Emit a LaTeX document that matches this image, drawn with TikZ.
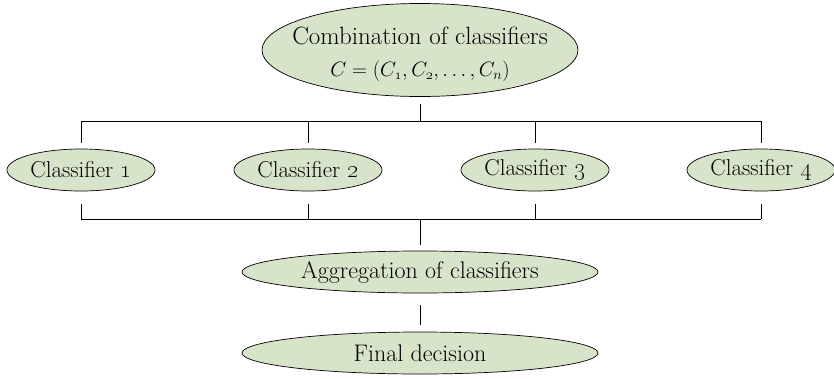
\documentclass[tikz,border=0pt]{standalone}
\usetikzlibrary{shapes.geometric}
\definecolor{leaf}{HTML}{D7E4C9}
\begin{document}
\begin{tikzpicture}[x=1pt,y=-1pt,
  font=\fontsize{23}{27}\selectfont,
  ell/.style={ellipse, draw=black, line width=0.7pt, fill=leaf, inner ysep=0pt, inner xsep=-20pt, align=center},
  small/.style={ell, minimum width=148pt, minimum height=42pt},
  wide/.style={ell, minimum width=356pt, minimum height=42pt, font=\fontsize{24}{28}\selectfont},
  conn/.style={draw=black, line width=0.8pt}]
\useasboundingbox (0,0) rectangle (834,378);
\node[ell, minimum width=316pt, minimum height=93pt, inner xsep=-60pt] (top) at (420,50)
  {{\fontsize{25}{30}\selectfont\rule{0pt}{26pt}Combination of classifiers}\\[5pt]
   {\fontsize{21}{25}\selectfont $C = (C_{\oldstylenums{1}}, C_{\oldstylenums{2}}, \ldots, C_n)$}};
\node[small] (c1) at (81,170) {Classifier \oldstylenums{1}};
\node[small] (c2) at (308,170) {Classifier \oldstylenums{2}};
\node[small] (c3) at (535,170) {Classifier \oldstylenums{3}};
\node[small] (c4) at (761,170) {Classifier \oldstylenums{4}};
\node[wide] (agg) at (420,272) {Aggregation of classifiers};
\node[wide] (fin) at (420,353) {Final decision};
\coordinate (jt) at (420,121);
\coordinate (jb) at (420,219);
\path[conn, shorten <=7pt] (top) -- (jt);
\path[conn] (c1 |- jt) -- (c4 |- jt);
\foreach \c in {c1,c2,c3,c4} {
  \path[conn, shorten >=6pt] (\c |- jt) -- (\c);
  \path[conn, shorten >=13pt] (\c |- jb) -- (\c);
}
\path[conn] (c1 |- jb) -- (c4 |- jb);
\path[conn, shorten >=6pt] (jb) -- (agg);
\path[conn, shorten <=12pt, shorten >=7pt] (agg) -- (fin);
\end{tikzpicture}
\end{document}
